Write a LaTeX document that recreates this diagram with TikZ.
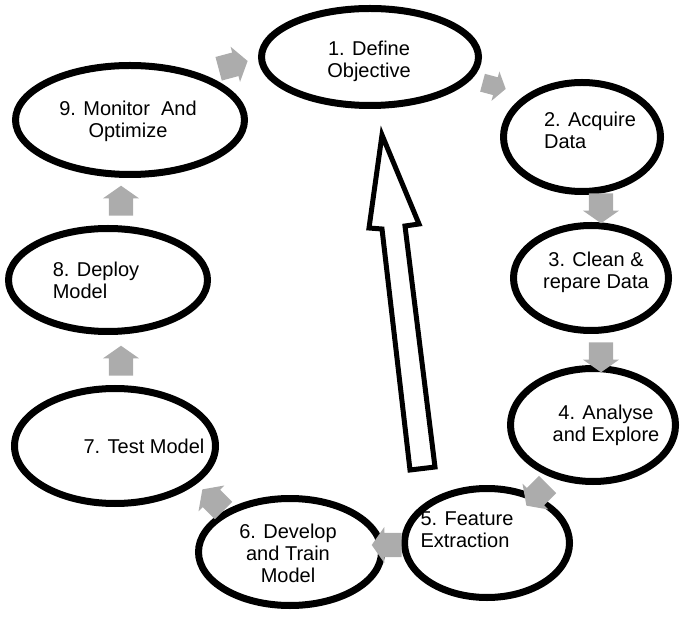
\documentclass[tikz,border=0pt]{standalone}
\usepackage{fontspec}
\setmainfont{Liberation Sans}
\usetikzlibrary{shapes.geometric,shapes.arrows,shadows}
\begin{document}
\begin{tikzpicture}[x=1pt,y=1pt,
  stage/.style={ellipse, draw=black, line width=7pt, fill=white, inner sep=0pt,
    drop shadow={shadow xshift=2pt, shadow yshift=-3pt, opacity=0.2, fill=black}},
  lbl/.style={font=\fontsize{20}{22}\selectfont, align=center, inner sep=0pt},
  lbll/.style={lbl, align=left},
  garrow/.style={single arrow, fill=gray!65, draw=none, minimum height=30pt,
    inner xsep=0pt, inner ysep=12pt, single arrow head extend=6pt,
    single arrow tip angle=110},
  bigarrow/.style={draw=black, line width=5pt, fill=white, line join=miter}]
\useasboundingbox (0,0) rectangle (700,621);
% stages
\node[stage, minimum width=217pt, minimum height=97pt]  (n1) at (370,564) {};
\node[stage, minimum width=157pt, minimum height=109pt] (n2) at (582,484) {};
\node[stage, minimum width=155pt, minimum height=105pt] (n3) at (591,343) {};
\node[stage, minimum width=165pt, minimum height=113pt] (n4) at (593,196) {};
\node[stage, minimum width=165pt, minimum height=109pt] (n5) at (487,78) {};
\node[stage, minimum width=183pt, minimum height=107pt] (n6) at (290,69) {};
\node[stage, minimum width=201pt, minimum height=115pt] (n7) at (115,175) {};
\node[stage, minimum width=199pt, minimum height=103pt] (n8) at (108,341) {};
\node[stage, minimum width=229pt, minimum height=109pt] (n9) at (130,501) {};
% gray step arrows
\node[garrow, rotate=15]  (a91) at (229,555) {};
\node[garrow, rotate=-15, minimum height=24pt, inner ysep=9pt] (a12) at (491,536) {};
\node[garrow, rotate=-90] (a23) at (601,417) {};
\node[garrow, rotate=-90] (a34) at (601,268) {};
\node[garrow, rotate=225] (a45) at (540,129) {};
\node[garrow, rotate=180] (a56) at (391,76) {};
\node[garrow, rotate=135] (a67) at (216,118) {};
\node[garrow, rotate=90]  (a78) at (121,256) {};
\node[garrow, rotate=90]  (a89) at (121,416) {};
% labels
\node[lbl]  (t1) at (369,560) {1. Define\\Objective};
\node[lbll] (t2) at (590,491) {2. Acquire\\Data};
\node[lbl]  (t3) at (596,349) {3. Clean \&\\repare Data};
\node[lbl]  (t4) at (606,196) {4. Analyse\\and Explore};
\node[lbll] (t5) at (467,91)  {5. Feature\\Extraction};
\node[lbl]  (t6) at (288,68)  {6. Develop\\and Train\\Model};
\node[lbl]  (t7) at (144,175) {7. Test Model};
\node[lbll] (t8) at (96,341)  {8. Deploy\\Model};
\node[lbl]  (t9) at (128,500) {9. Monitor\ \ And\\Optimize};
% big hollow arrow
\coordinate (tip) at (382,486);
\coordinate (hr) at (419,397);
\coordinate (sr) at (405,395);
\coordinate (br) at (435,154);
\coordinate (bl) at (410,151);
\coordinate (sl) at (382,392);
\coordinate (hl) at (369,393);
\draw[bigarrow] (tip) -- (hr) -- (sr) -- (br) -- (bl) -- (sl) -- (hl) -- cycle;
\end{tikzpicture}
\end{document}
